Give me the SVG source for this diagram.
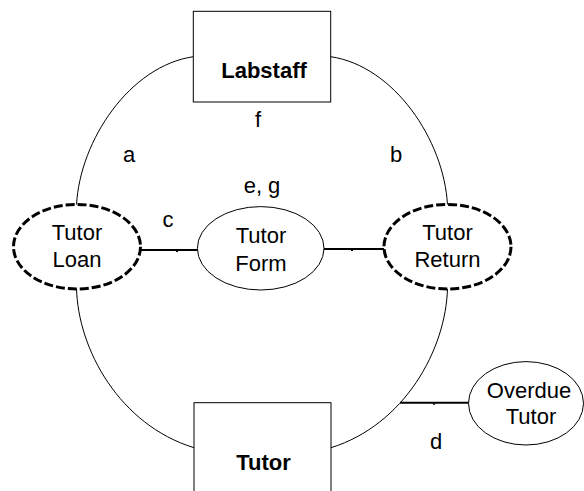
<svg xmlns="http://www.w3.org/2000/svg" width="584" height="491" viewBox="0 0 584 491">
  <style>
    .box { fill: #fff; stroke: #000; stroke-width: 1; }
    .oval { fill: #fff; stroke: #000; stroke-width: 1; }
    .dash { fill: #fff; stroke: #000; stroke-width: 3; stroke-dasharray: 9 3; }
    .arc { fill: none; stroke: #000; stroke-width: 1; }
    .link { fill: none; stroke: #000; stroke-width: 2; }
    .tick { fill: #000; }
    text { font-family: "Liberation Sans", Arial, sans-serif; font-size: 22px; fill: #000; text-anchor: middle; }
    .bold { font-weight: bold; }
  </style>

  <!-- connectors -->
  <g id="connectors">
    <path class="arc" d="M193.3,56.7 C130,66 80,140 76.5,205"/>
    <path class="arc" d="M76.5,288 C78,350 120,425 194,447.7"/>
    <path class="arc" d="M330.7,56.7 C394,66 444,140 447.5,205"/>
    <path class="arc" d="M447.5,288 C446,350 404,425 331,447.7"/>
    <line class="link" x1="140" y1="250" x2="198" y2="250"/>
    <rect class="tick" x="176" y="250" width="2" height="2"/>
    <line class="link" x1="323" y1="249" x2="384" y2="249"/>
    <rect class="tick" x="351" y="249" width="2" height="2"/>
    <line class="link" x1="400" y1="402.7" x2="469" y2="402.7"/>
    <rect class="tick" x="433" y="402.7" width="2" height="2"/>
  </g>

  <!-- connector labels -->
  <g id="labels">
    <text x="258" y="127">f</text>
    <text x="129" y="162">a</text>
    <text x="396" y="162">b</text>
    <text x="262" y="193">e, g</text>
    <text x="168" y="227">c</text>
    <text x="436" y="449">d</text>
  </g>

  <g id="labstaff">
    <rect class="box" x="193.3" y="11.3" width="137.4" height="90.7"/>
    <text class="bold" x="264" y="78">Labstaff</text>
  </g>

  <g id="tutor-loan">
    <ellipse class="dash" cx="77" cy="246.7" rx="63.5" ry="42.3"/>
    <text x="77" y="240">Tutor</text>
    <text x="77" y="266.7">Loan</text>
  </g>

  <g id="tutor-form">
    <ellipse class="oval" cx="260.7" cy="248.3" rx="63.3" ry="41.7"/>
    <text x="261" y="243.3">Tutor</text>
    <text x="261" y="270.7">Form</text>
  </g>

  <g id="tutor-return">
    <ellipse class="dash" cx="447.5" cy="246.7" rx="63.5" ry="42.3"/>
    <text x="447.5" y="240">Tutor</text>
    <text x="447.5" y="266.7">Return</text>
  </g>

  <g id="overdue-tutor">
    <ellipse class="oval" cx="526" cy="403.3" rx="57.5" ry="41.7"/>
    <text x="529" y="398.3">Overdue</text>
    <text x="531" y="424.3">Tutor</text>
  </g>

  <g id="tutor">
    <rect class="box" x="194" y="402.7" width="137" height="100"/>
    <text class="bold" x="263.5" y="470">Tutor</text>
  </g>
</svg>
